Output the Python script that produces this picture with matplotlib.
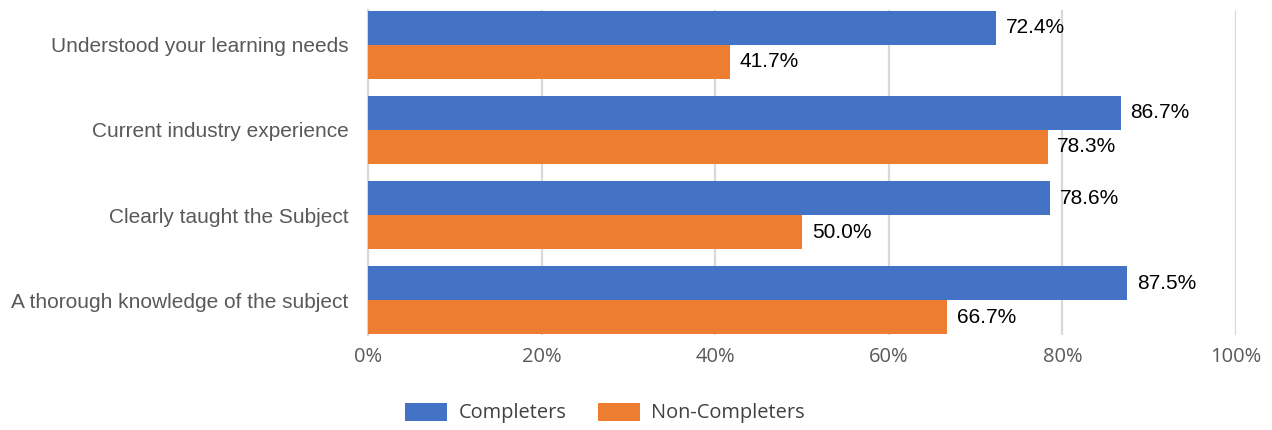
import matplotlib
matplotlib.use("Agg")
import matplotlib.pyplot as plt
import numpy as np

categories = ["Understood your learning needs", "Current industry experience",
              "Clearly taught the Subject", "A thorough knowledge of the subject"]
completers = [72.4, 86.7, 78.6, 87.5]
non_completers = [41.7, 78.3, 50.0, 66.7]
series_names = ["Completers", "Non-Completers"]
xticks = [0, 20, 40, 60, 80, 100]
xtick_labels = ["0%", "20%", "40%", "60%", "80%", "100%"]

BLUE = "#4472C4"
ORANGE = "#ED7D31"
GRID = "#D9D9D9"

fig = plt.figure(figsize=(12.72, 4.30), dpi=100)
ax = fig.add_axes([368/1272, 1-335/430, (1236-368)/1272, (335-10)/430])

y = np.arange(len(categories))
h = 0.4
b1 = ax.barh(y - h/2, completers, height=h, color=BLUE, label=series_names[0], zorder=3)
b2 = ax.barh(y + h/2, non_completers, height=h, color=ORANGE, label=series_names[1], zorder=3)

for bars, vals in ((b1, completers), (b2, non_completers)):
    for bar, v in zip(bars, vals):
        ax.annotate(f"{v:.1f}%", xy=(bar.get_width(), bar.get_y() + bar.get_height()/2),
                    xytext=(7, 0), textcoords="offset points", va="center", ha="left",
                    fontsize=15, family="Liberation Sans", color="black")

ax.set_xlim(0, 100)
ax.set_ylim(len(categories) - 1 + 0.41, -0.41)
ax.set_xticks(xticks)
ax.set_xticklabels(xtick_labels, family="Open Sans", fontsize=14.5, color="#595959")
ax.set_yticks(y)
ax.set_yticklabels(categories, family="Liberation Sans", fontsize=15, color="#595959")
ax.tick_params(axis="both", length=0)
ax.tick_params(axis="x", pad=9)
ax.tick_params(axis="y", pad=14)
ax.xaxis.grid(True, color=GRID, linewidth=1.6, zorder=0)
for s in ["top", "right", "bottom"]:
    ax.spines[s].set_visible(False)
ax.spines["left"].set_color(GRID)
ax.spines["left"].set_linewidth(1.6)

fig.legend(handles=[b1, b2], labels=series_names, loc="center",
           bbox_to_anchor=(605/1272, 1-413/430), ncol=2, frameon=False,
           prop={"family": "Open Sans", "size": 14.4}, labelcolor="#404040",
           handlelength=2.1, handleheight=1.0, columnspacing=1.6, handletextpad=0.55)

fig.savefig("out.png", dpi=100, facecolor="white")
